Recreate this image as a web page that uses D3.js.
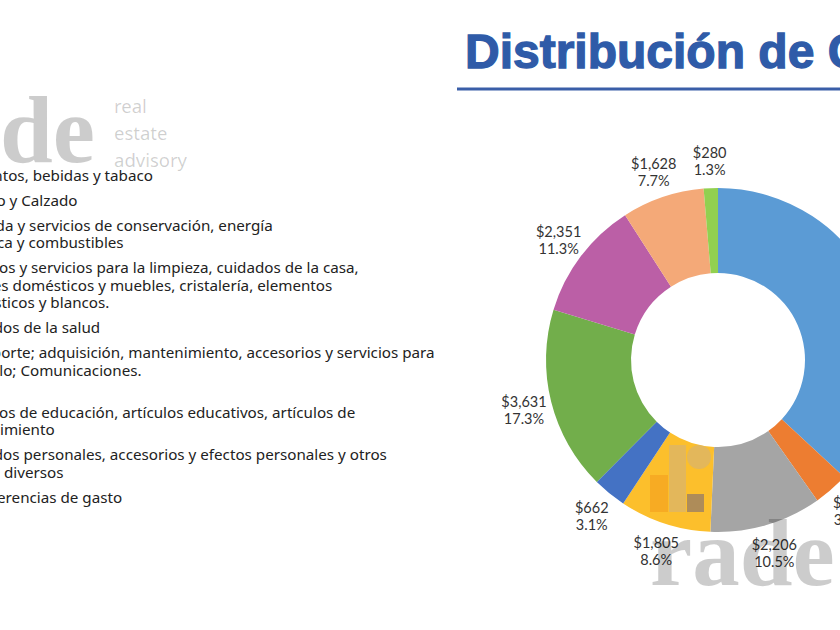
<!DOCTYPE html>
<html>
<head>
<meta charset="utf-8">
<script src="https://cdn.jsdelivr.net/npm/d3@7"></script>
<style>
  body { margin: 0; background: #fff; overflow: hidden; }
  svg { display: block; }
</style>
</head>
<body>
<div id="chart"></div>
<script>
// Distribución de gasto: donut + legend (slide crop)

var categories = [
    "Alimentos, bebidas y tabaco",
    "Vestido y Calzado",
    "Vivienda y servicios de conservación, energía\neléctrica y combustibles",
    "Artículos y servicios para la limpieza, cuidados de la casa,\nenseres domésticos y muebles, cristalería, elementos\ndomésticos y blancos.",
    "Cuidados de la salud",
    "Transporte; adquisición, mantenimiento, accesorios y servicios para\nvehículo; Comunicaciones.\n",
    "Servicios de educación, artículos educativos, artículos de\nesparcimiento",
    "Cuidados personales, accesorios y efectos personales y otros\ngastos diversos",
    "Transferencias de gasto"
];
var values = [7754, 693, 2206, 1805, 662, 3631, 2351, 1628, 280];
var pctLabels = ["36.9%", "3.3%", "10.5%", "8.6%", "3.1%", "17.3%", "11.3%", "7.7%", "1.3%"];
var colors = ["#5b9bd5", "#ed7d31", "#a5a5a5", "#fcbf2c", "#4472c4", "#72ae4b", "#bb5fa6", "#f4a978", "#92d050"];
var titleText = "Distribución de Gasto";
var markText = ["real", "estate", "advisory"];

var param = {
    width: 840,
    height: 630,
    cx: 718,
    cy: 360,
    outer: 172,
    inner: 87,
    labelR: 200,
    legendX: -47,
    legendY: 181,
    lineH: 17.5,
    entryGap: 24.9
};

var svg = d3.select("#chart").append("svg")
    .attr("width", param.width)
    .attr("height", param.height)
    .style("font-family", "'Noto Sans', Lato, sans-serif");

// title + rule
svg.append("text")
    .attr("x", 465).attr("y", 68)
    .attr("fill", "#2f5ba8")
    .attr("stroke", "#2f5ba8").attr("stroke-width", 1.3)
    .style("font-family", "'Liberation Sans', Arial, sans-serif")
    .style("font-weight", "bold")
    .style("font-size", "48px")
    .text(titleText);
svg.append("line")
    .attr("x1", 457).attr("x2", param.width)
    .attr("y1", 89).attr("y2", 89)
    .attr("stroke", "#3a5ea8").attr("stroke-width", 3);

// legend text
var legend = svg.append("g").attr("class", "legend");
var y = param.legendY;
categories.forEach(function(c, i){
    var lines = c.split("\n");
    var t = legend.append("text")
	.attr("x", param.legendX).attr("y", y)
	.attr("fill", "#222")
	.style("font-size", "15.2px");
    lines.forEach(function(l, j){
	t.append("tspan")
	    .attr("x", param.legendX)
	    .attr("dy", j == 0 ? 0 : param.lineH)
	    .text(l);
    });
    y += (lines.length - 1) * param.lineH + param.entryGap;
});

// donut
var pie = d3.pie().sort(null).value(function(d){ return d; });
var arcs = pie(values);
var arc = d3.arc().innerRadius(param.inner).outerRadius(param.outer);
var labelArc = d3.arc().innerRadius(param.labelR).outerRadius(param.labelR);
var fmt = d3.format("$,");

var g = svg.append("g").attr("transform", "translate(" + param.cx + "," + param.cy + ")");
g.selectAll("path.slice").data(arcs).enter().append("path")
    .attr("class", "slice")
    .attr("d", arc)
    .attr("fill", function(d, i){ return colors[i]; });

var lab = g.selectAll("text.lab").data(arcs).enter().append("text")
    .attr("class", "lab")
    .attr("text-anchor", "middle")
    .attr("fill", "#333")
    .style("font-family", "Lato, 'Noto Sans', sans-serif")
    .style("font-size", "14.5px")
    .attr("transform", function(d){ return "translate(" + labelArc.centroid(d) + ")"; });
lab.append("tspan").attr("x", 0).attr("y", -2).text(function(d){ return fmt(d.data); });
lab.append("tspan").attr("x", 0).attr("y", 15).text(function(d, i){ return pctLabels[i]; });

// watermarks
var wm = svg.append("g").attr("class", "watermark").style("pointer-events", "none");
wm.append("text")
    .attr("x", 95).attr("y", 162).attr("text-anchor", "end")
    .attr("fill", "#000").attr("fill-opacity", 0.2)
    .style("font-family", "'Liberation Serif', 'Times New Roman', serif")
    .style("font-weight", "bold").style("font-size", "95px")
    .text("rade");
wm.selectAll("text.small").data(markText).enter().append("text")
    .attr("class", "small")
    .attr("x", 114).attr("y", function(d, i){ return 113 + i * 27; })
    .attr("fill", "#000").attr("fill-opacity", 0.19)
    .style("font-size", "18.5px")
    .text(function(d){ return d; });

wm.append("text")
    .attr("x", 650).attr("y", 585)
    .attr("fill", "#000").attr("fill-opacity", 0.2)
    .style("font-family", "'Liberation Serif', 'Times New Roman', serif")
    .style("font-weight", "bold").style("font-size", "95px")
    .text("rade");
wm.append("rect").attr("x", 650).attr("y", 475).attr("width", 18).attr("height", 37)
    .attr("fill", "#f39a1e").attr("fill-opacity", 0.55);
wm.append("rect").attr("x", 669).attr("y", 445).attr("width", 17).attr("height", 67)
    .attr("fill", "#c9b08a").attr("fill-opacity", 0.5);
wm.append("circle").attr("cx", 699).attr("cy", 457).attr("r", 12)
    .attr("fill", "#c9b08a").attr("fill-opacity", 0.5);
wm.append("rect").attr("x", 687).attr("y", 494).attr("width", 17).attr("height", 18)
    .attr("fill", "#7a6a78").attr("fill-opacity", 0.6);
</script>
</body>
</html>
